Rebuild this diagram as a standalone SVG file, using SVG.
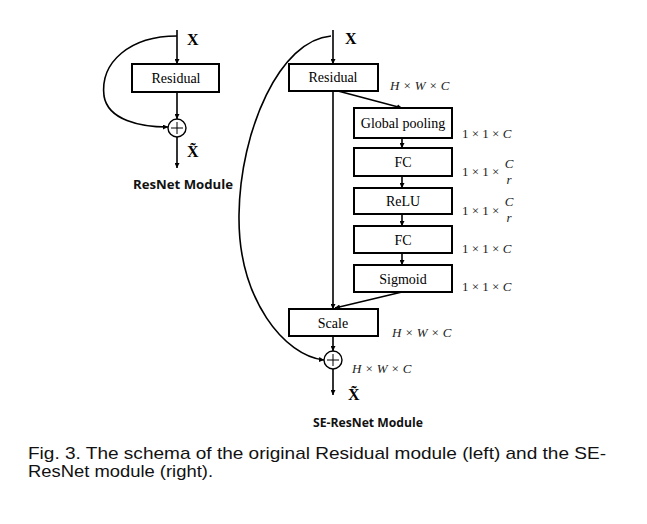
<svg xmlns="http://www.w3.org/2000/svg" width="647" height="524" viewBox="0 0 647 524">
<defs>
<marker id="ah" viewBox="0 0 10 10" refX="10" refY="5" markerWidth="5" markerHeight="5" orient="auto" markerUnits="userSpaceOnUse">
<path d="M0,0 L10,5 L0,10 z" fill="#000"/>
</marker>
<style>
.box{fill:#fff;stroke:#000;stroke-width:2}
.ln{fill:none;stroke:#000;stroke-width:1.6}
.lb{font-family:"Liberation Serif",serif;font-size:14px;fill:#000;text-anchor:middle}
.xl{font-family:"Liberation Serif",serif;font-size:16px;font-weight:bold;fill:#000}
.dim{font-family:"Liberation Serif",serif;font-size:13px;fill:#222}
.it{font-style:italic}
.mod{font-family:"Open Sans","DejaVu Sans",sans-serif;font-size:12px;font-weight:bold;fill:#111}
.cap{font-family:"Liberation Sans",Arial,sans-serif;font-size:17px;fill:#111}
</style>
</defs>
<rect width="647" height="524" fill="#fff"/>

<g id="connectors">
<!-- left module -->
<line class="ln" x1="177" y1="30" x2="177" y2="64" marker-end="url(#ah)"/>
<line class="ln" x1="177" y1="92" x2="177" y2="119" marker-end="url(#ah)"/>
<line class="ln" x1="177" y1="137" x2="177" y2="168" marker-end="url(#ah)"/>
<path class="ln" d="M177,36 C130,36 100,62 104,96 C108,120 140,127 168,127" marker-end="url(#ah)"/>
<!-- right module -->
<line class="ln" x1="333" y1="30" x2="333" y2="64" marker-end="url(#ah)"/>
<line class="ln" x1="333" y1="91" x2="333" y2="309" marker-end="url(#ah)"/>
<line class="ln" x1="338" y1="91" x2="402" y2="108" marker-end="url(#ah)"/>
<line class="ln" x1="402" y1="138" x2="402" y2="148" marker-end="url(#ah)"/>
<line class="ln" x1="402" y1="176" x2="402" y2="188" marker-end="url(#ah)"/>
<line class="ln" x1="402" y1="214" x2="402" y2="226" marker-end="url(#ah)"/>
<line class="ln" x1="402" y1="253" x2="402" y2="265" marker-end="url(#ah)"/>
<line class="ln" x1="402" y1="292" x2="335" y2="308" marker-end="url(#ah)"/>
<line class="ln" x1="333" y1="336" x2="333" y2="351" marker-end="url(#ah)"/>
<line class="ln" x1="333" y1="369" x2="333" y2="395" marker-end="url(#ah)"/>
<path class="ln" d="M331,36 C280,40 240,130 239,215 C238,300 285,356 324,360" marker-end="url(#ah)"/>
</g>

<g id="left-residual">
<rect class="box" x="132" y="64" width="87" height="28"/>
<text class="lb" x="176" y="83">Residual</text>
</g>
<g id="left-sum">
<circle cx="177" cy="128" r="9" fill="#fff" stroke="#000" stroke-width="1.4"/>
<path d="M171,128 H183 M177,122 V134" stroke="#000" stroke-width="1"/>
</g>
<g id="left-labels">
<text class="xl" x="187" y="45">X</text>
<text class="xl" x="187" y="157">X̃</text>
<text class="mod" x="133" y="189" textLength="100" lengthAdjust="spacingAndGlyphs">ResNet Module</text>
</g>

<g id="right-residual">
<rect class="box" x="289" y="64" width="89" height="27"/>
<text class="lb" x="333" y="82">Residual</text>
</g>
<g id="global-pooling">
<rect class="box" x="354" y="108" width="98" height="30"/>
<text class="lb" x="403" y="128">Global pooling</text>
</g>
<g id="fc1">
<rect class="box" x="354" y="148" width="98" height="28"/>
<text class="lb" x="403" y="167">FC</text>
</g>
<g id="relu">
<rect class="box" x="354" y="188" width="98" height="26"/>
<text class="lb" x="403" y="206">ReLU</text>
</g>
<g id="fc2">
<rect class="box" x="354" y="226" width="98" height="27"/>
<text class="lb" x="403" y="245">FC</text>
</g>
<g id="sigmoid">
<rect class="box" x="354" y="265" width="98" height="27"/>
<text class="lb" x="403" y="284">Sigmoid</text>
</g>
<g id="scale">
<rect class="box" x="289" y="309" width="89" height="27"/>
<text class="lb" x="333" y="328">Scale</text>
</g>
<g id="right-sum">
<circle cx="333" cy="360" r="9" fill="#fff" stroke="#000" stroke-width="1.4"/>
<path d="M327,360 H339 M333,354 V366" stroke="#000" stroke-width="1"/>
</g>

<g id="right-labels">
<text class="xl" x="345" y="44">X</text>
<text class="xl" x="348" y="400">X̃</text>
<text class="dim it" x="390" y="90">H × W × C</text>
<text class="dim it" x="392" y="337">H × W × C</text>
<text class="dim it" x="352" y="373">H × W × C</text>
<text class="dim" x="462" y="138">1 × 1 × <tspan class="it">C</tspan></text>
<text class="dim" x="462" y="176">1 × 1 ×</text>
<text class="dim it" x="509" y="168" text-anchor="middle">C</text>
<text class="dim it" x="509" y="184" text-anchor="middle">r</text>
<text class="dim" x="462" y="215">1 × 1 ×</text>
<text class="dim it" x="509" y="206" text-anchor="middle">C</text>
<text class="dim it" x="509" y="222" text-anchor="middle">r</text>
<text class="dim" x="462" y="253">1 × 1 × <tspan class="it">C</tspan></text>
<text class="dim" x="462" y="291">1 × 1 × <tspan class="it">C</tspan></text>
<text class="mod" x="313" y="427" textLength="110" lengthAdjust="spacingAndGlyphs">SE-ResNet Module</text>
</g>

<g id="caption">
<text class="cap" x="28" y="459" textLength="578" lengthAdjust="spacingAndGlyphs">Fig. 3. The schema of the original Residual module (left) and the SE-</text>
<text class="cap" x="28" y="477" textLength="185" lengthAdjust="spacingAndGlyphs">ResNet module (right).</text>
</g>
</svg>
